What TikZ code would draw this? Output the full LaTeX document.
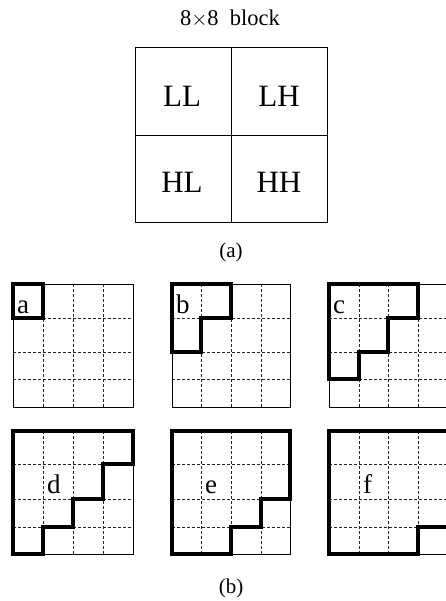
\documentclass[tikz,border=0pt]{standalone}
\usepackage{fontspec}
\setmainfont{Liberation Serif}
\tikzset{
  thinline/.style={line width=0.9pt, black},
  gridd/.style={line width=0.8pt, black!85, dash pattern=on 3pt off 2pt},
  thickline/.style={line width=3.2pt, black, line join=miter},
  biglbl/.style={font=\fontsize{31}{31}\selectfont, inner sep=0pt},
  celllbl/.style={font=\fontsize{27}{27}\selectfont, inner sep=0pt, anchor=base west},
  captxt/.style={font=\fontsize{21}{21}\selectfont, inner sep=0pt},
}
\newcommand\mkgrid[3]{%
  \foreach \xx [count=\i from 0] in {#2} {
    \foreach \yy [count=\j from 0] in {#3} {
      \coordinate (#1-\i-\j) at (\xx,\yy);
    }
  }
  \foreach \k in {1,2,3} {
    \draw[gridd] (#1-\k-0) -- (#1-\k-4);
    \draw[gridd] (#1-0-\k) -- (#1-4-\k);
  }
  \draw[thinline] (#1-0-0) rectangle (#1-4-4);
}
\begin{document}
\begin{tikzpicture}[x=1pt,y=-1pt]
\useasboundingbox (0,0) rectangle (446,601);
\clip (0,0) rectangle (446,601);
\fill[white] (0,0) rectangle (446,601);

% (a) block
\node[font=\fontsize{22.5}{22.5}\selectfont, inner sep=0pt, anchor=base] (title) at (230,26) {8$\times$8\ \ block};
\draw[thinline] (135,47) rectangle (327,222);
\draw[thinline] (231,47) -- (231,222);
\draw[thinline] (135,135) -- (327,135);
\node[biglbl] (LL) at (182,96) {LL};
\node[biglbl] (LH) at (279,96) {LH};
\node[biglbl] (HL) at (182,182) {HL};
\node[biglbl] (HH) at (279,182) {HH};
\node[captxt] (capa) at (231,252) {(a)};

% grids
\mkgrid{ga}{13,43,73,103,133}{284,318,352,379,407}
\mkgrid{gb}{172,201,231,261,290}{284,318,352,379,407}
\mkgrid{gc}{329,359,388,418,448}{284,318,352,379,407}
\mkgrid{gd}{13,43,73,103,133}{431,464,499,527,554}
\mkgrid{ge}{172,201,231,261,290}{431,464,499,527,554}
\mkgrid{gf}{329,359,388,418,448}{431,464,499,527,554}

\draw[thickline] (ga-0-0) -- (ga-1-0) -- (ga-1-1) -- (ga-0-1) -- cycle;
\draw[thickline] (gb-0-0) -- (gb-2-0) -- (gb-2-1) -- (gb-1-1) -- (gb-1-2) -- (gb-0-2) -- cycle;
\draw[thickline] (gc-0-0) -- (gc-3-0) -- (gc-3-1) -- (gc-2-1) -- (gc-2-2) -- (gc-1-2) -- (gc-1-3) -- (gc-0-3) -- cycle;
\draw[thickline] (gd-0-0) -- (gd-4-0) -- (gd-4-1) -- (gd-3-1) -- (gd-3-2) -- (gd-2-2) -- (gd-2-3) -- (gd-1-3) -- (gd-1-4) -- (gd-0-4) -- cycle;
\draw[thickline] (ge-0-0) -- (ge-4-0) -- (ge-4-2) -- (ge-3-2) -- (ge-3-3) -- (ge-2-3) -- (ge-2-4) -- (ge-0-4) -- cycle;
\draw[thickline] (gf-0-0) -- (gf-4-0) -- (gf-4-3) -- (gf-3-3) -- (gf-3-4) -- (gf-0-4) -- cycle;

\node[celllbl] (la) at (17,313) {a};
\node[celllbl] (lb) at (176,313) {b};
\node[celllbl] (lc) at (333,313) {c};
\node[celllbl] (ld) at (47,493) {d};
\node[celllbl] (le) at (205,493) {e};
\node[celllbl] (lf) at (363,493) {f};

\node[captxt] (capb) at (231,588) {(b)};
\end{tikzpicture}
\end{document}
